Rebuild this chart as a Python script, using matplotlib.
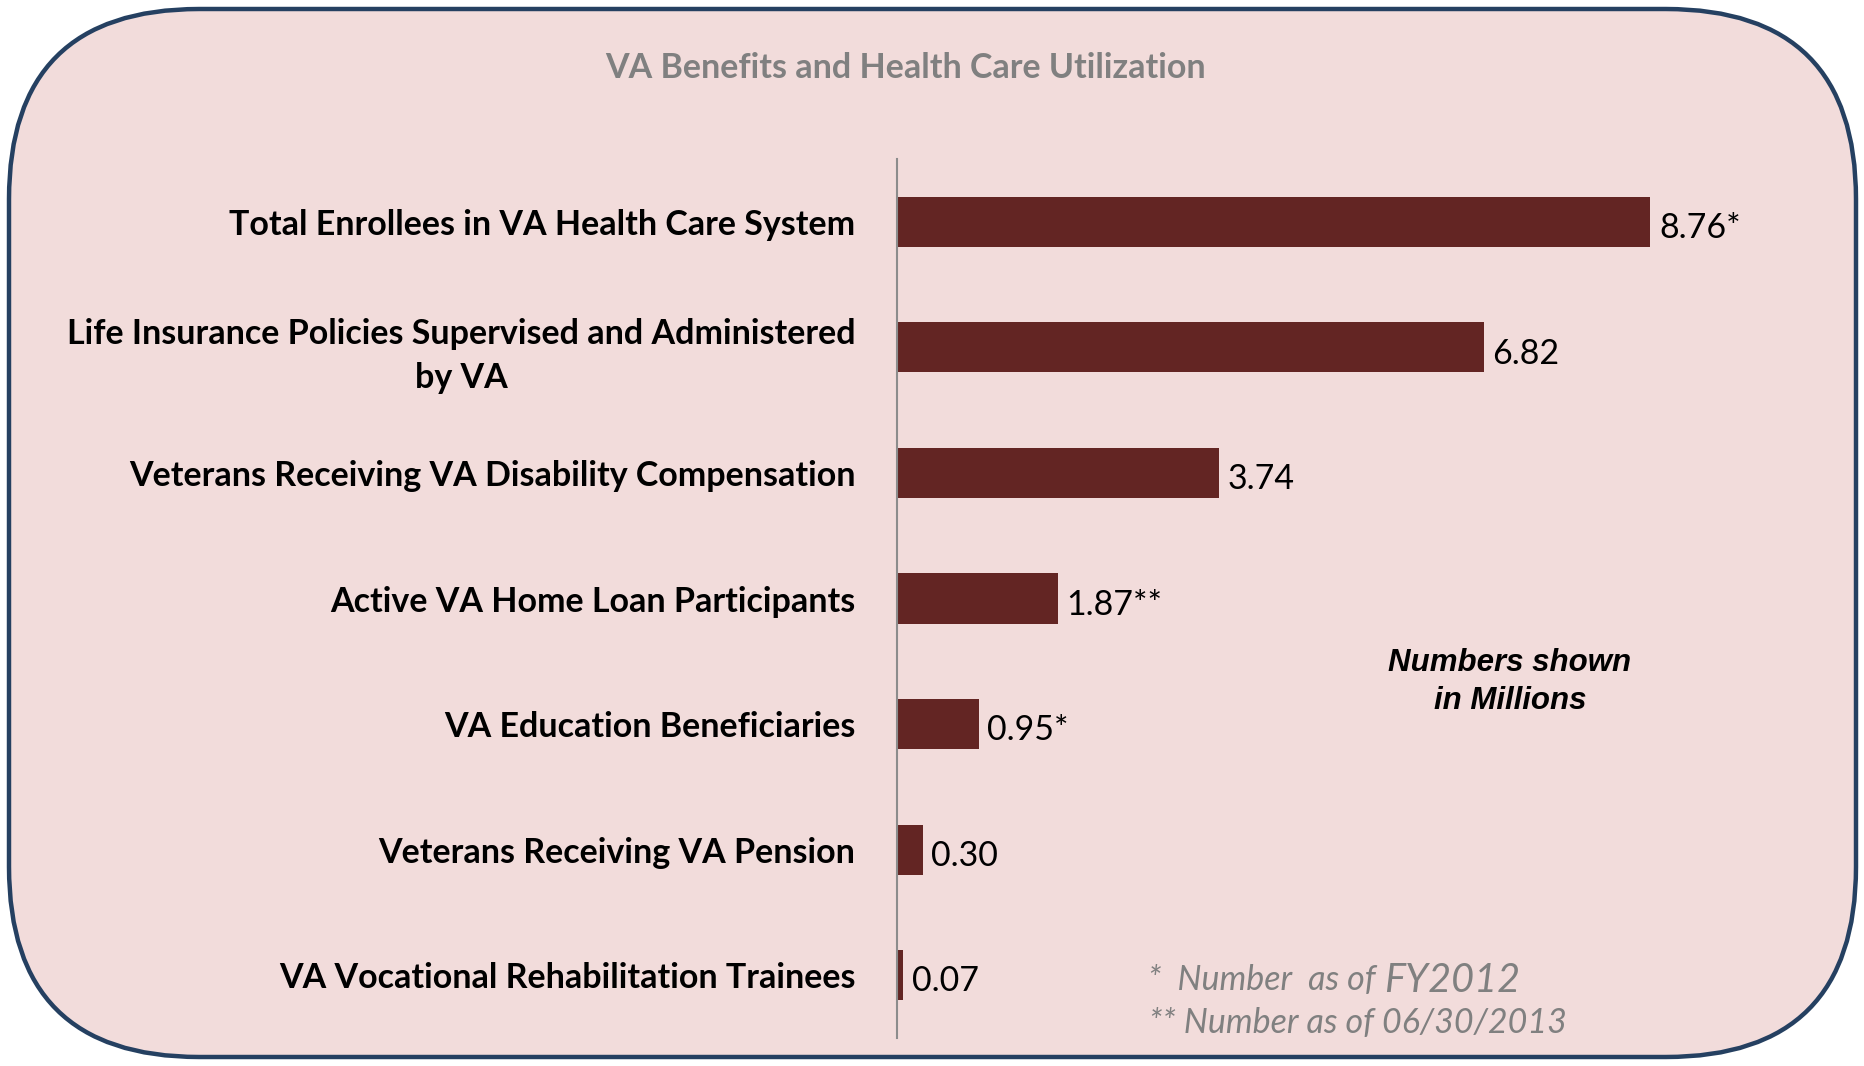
import matplotlib
matplotlib.use('Agg')
import matplotlib.pyplot as plt
from matplotlib.patches import FancyBboxPatch
import numpy as np

# Chart data (values in millions)
categories = [
    'Total Enrollees in VA Health Care System',
    'Life Insurance Policies Supervised and Administered\nby VA',
    'Veterans Receiving VA Disability Compensation',
    'Active VA Home Loan Participants',
    'VA Education Beneficiaries',
    'Veterans Receiving VA Pension',
    'VA Vocational Rehabilitation Trainees',
]
values = [8.76, 6.82, 3.74, 1.87, 0.95, 0.30, 0.07]
value_labels = ['8.76*', '6.82', '3.74', '1.87**', '0.95*', '0.30', '0.07']

title = 'VA Benefits and Health Care Utilization'
unit_note = 'Numbers shown\nin Millions'
footnote_1 = '*  Number  as of '
footnote_1b = 'FY2012'
footnote_2 = '** Number as of 06/30/2013'

BAR_COLOR = '#632523'
BG_COLOR = '#F2DCDB'
BORDER_COLOR = '#254061'
TEXT_GRAY = '#808080'
FS = 24.5

W, H = 1865, 1066
fig = plt.figure(figsize=(W / 100, H / 100), dpi=100)
fig.patch.set_facecolor('white')

# Rounded panel behind everything, drawn in pixel units
bg = fig.add_axes([0, 0, 1, 1], zorder=0)
bg.set_xlim(0, W)
bg.set_ylim(0, H)
bg.axis('off')
panel = FancyBboxPatch((9, 9), W - 18, H - 18,
                       boxstyle='round,pad=0,rounding_size=190',
                       facecolor=BG_COLOR, edgecolor=BORDER_COLOR, linewidth=3.2)
bg.add_patch(panel)

# Bar chart
ax = fig.add_axes([897 / W, 1 - 1038 / H, 860 / W, (1038 - 159) / H], zorder=1)
ax.patch.set_alpha(0)
y = np.arange(len(categories))
ax.barh(y, values, height=0.4, color=BAR_COLOR, edgecolor='none')
ax.set_xlim(0, 10)
ax.set_ylim(len(categories) - 0.5, -0.5)

for yi, v, lab in zip(y, values, value_labels):
    ax.text(v + 0.1, yi + 0.05, lab, va='center', ha='left',
            fontsize=FS, family='Lato', color='black')

ax.set_yticks(y)
ax.set_yticklabels(categories, fontsize=FS, fontweight='bold', family='Lato',
                   multialignment='center', linespacing=1.45)
ax.tick_params(axis='y', length=0, pad=30)
ax.set_xticks([])
for side in ['top', 'right', 'bottom']:
    ax.spines[side].set_visible(False)
ax.spines['left'].set_color('#8C8C8C')
ax.spines['left'].set_linewidth(1.5)

# Title and notes
fig.text(906 / W, 1 - 68 / H, title, ha='center', va='center',
         fontsize=FS, fontweight='bold', family='Lato', color=TEXT_GRAY)
fig.text(1510 / W, 1 - 682 / H, unit_note, ha='center', va='center',
         fontsize=22.5, fontweight='bold', style='italic', family='Liberation Sans',
         color='black', linespacing=1.32)
t1 = fig.text(1148 / W, 1 - 980 / H, footnote_1, ha='left', va='center',
              fontsize=FS, style='italic', family='Lato', color=TEXT_GRAY)
fig.canvas.draw()
bb = t1.get_window_extent()
fig.text(bb.x1 / W, 1 - 980 / H, footnote_1b, ha='left', va='center',
         fontsize=28.5, style='italic', family='Lato', color=TEXT_GRAY)
fig.text(1149 / W, 1 - 1023 / H, footnote_2, ha='left', va='center',
         fontsize=FS, style='italic', family='Lato', color=TEXT_GRAY)

fig.savefig('out.png', dpi=100, facecolor='white')
plt.close(fig)
